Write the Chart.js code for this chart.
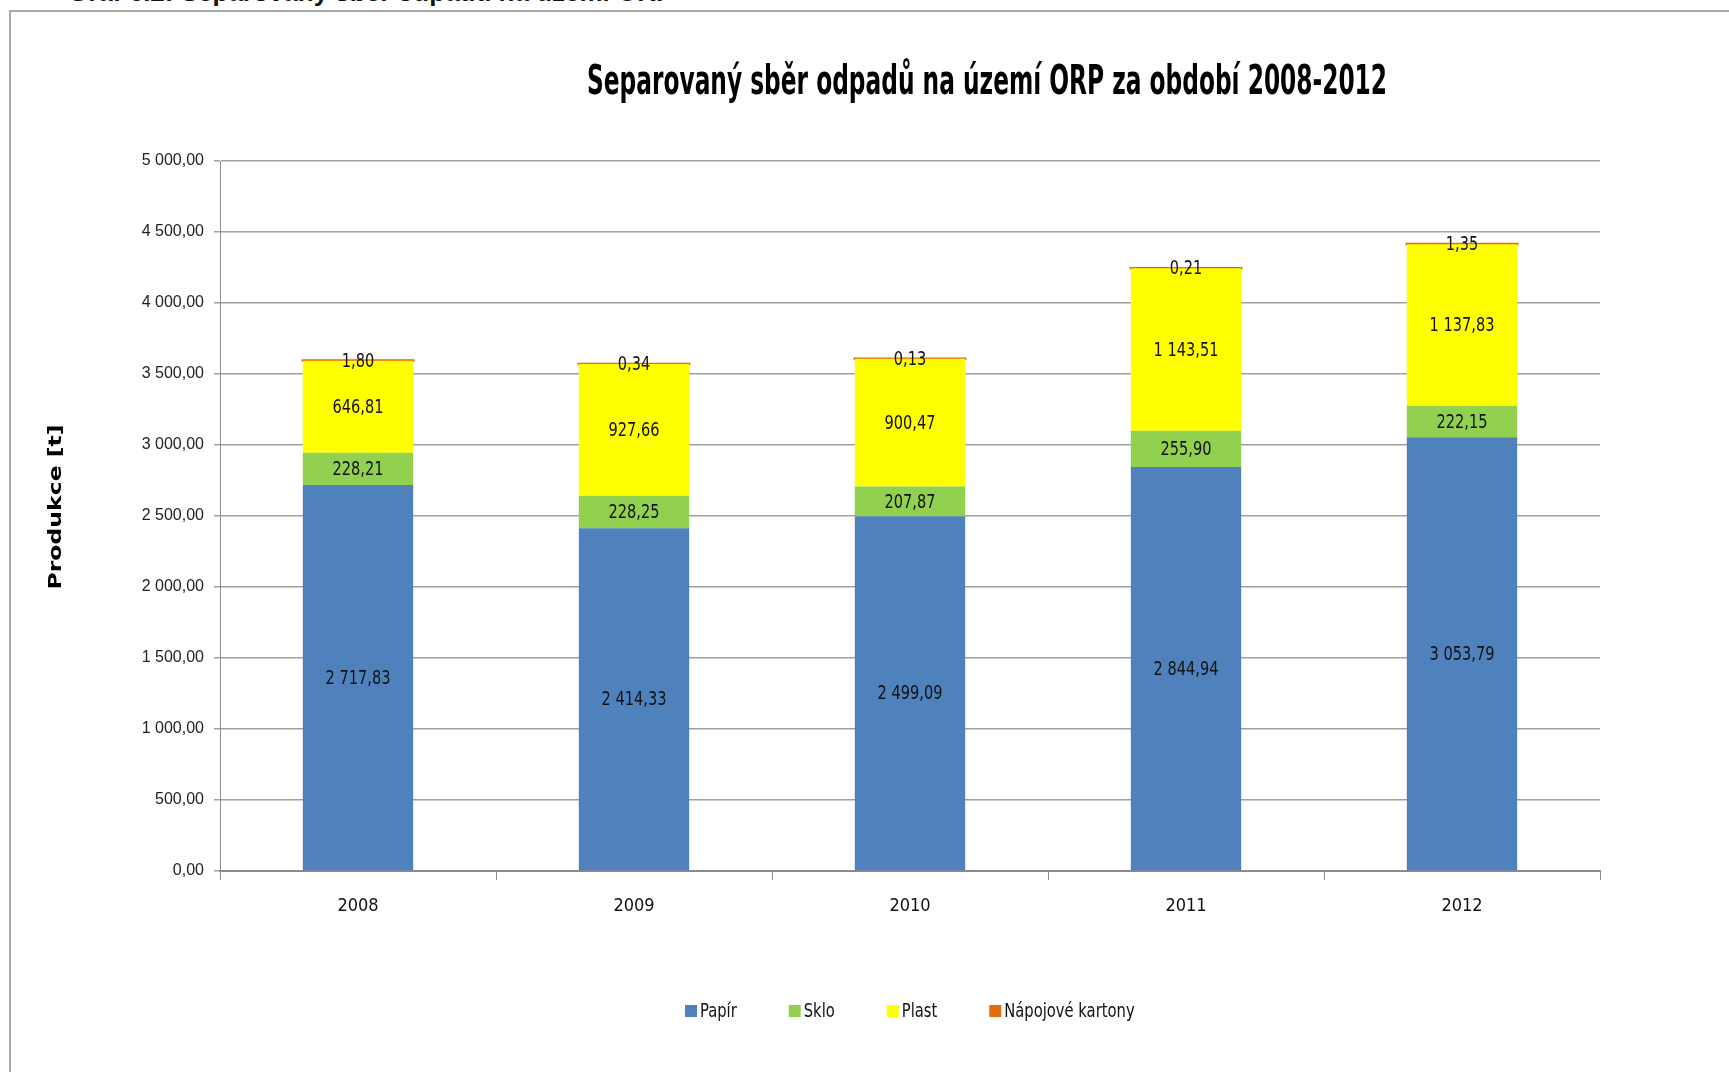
<!DOCTYPE html>
<html>
<head>
<meta charset="utf-8">
<title>Separovaný sběr odpadů</title>
<script src="https://cdn.jsdelivr.net/npm/chart.js@4.4.1/dist/chart.umd.min.js"></script>
<style>
  html, body { margin: 0; padding: 0; background: #fff; overflow: hidden; }
  #page { position: relative; width: 1729px; height: 1072px; overflow: hidden; }
  #frame { position: absolute; left: 9px; top: 10px; width: 1800px; height: 1200px;
           border-left: 2px solid #a8a8a8; border-top: 2px solid #a8a8a8; }
  #caption { position: absolute; left: 68px; top: -23px; margin: 0; line-height: 26px;
             font: bold 26px "Liberation Sans", Arial, sans-serif; color: #111; white-space: nowrap; }
  #chart { position: absolute; left: 0; top: 0; }
</style>
</head>
<body>
<div id="page">
  <div id="frame"></div>
  <p id="caption">Graf 6.2: Separovaný sběr odpadů na území ORP</p>
  <canvas id="chart" width="1729" height="1072"></canvas>
</div>
<script>
// roky a hodnoty v tunách
const years = ["2008", "2009", "2010", "2011", "2012"];
const papir = [2717.83, 2414.33, 2499.09, 2844.94, 3053.79];
const sklo = [228.21, 228.25, 207.87, 255.90, 222.15];
const plast = [646.81, 927.66, 900.47, 1143.51, 1137.83];
const kartony = [1.80, 0.34, 0.13, 0.21, 1.35];

const seriesNames = ["Papír", "Sklo", "Plast", "Nápojové kartony"];
const seriesColors = ["#4f81bd", "#92d050", "#ffff00", "#e46c0a"];

const yMax = 5000;
const yStep = 500;

const chartTitle = "Separovaný sběr odpadů na území ORP za období 2008-2012";
const axisTitle = "Produkce [t]";
const NARROW = '"Liberation Sans Narrow", "DejaVu Sans Condensed", sans-serif';

// 2 717,83 style numbers
function fmt(v) {
  const parts = Number(v).toFixed(2).split(".");
  return parts[0].replace(/\B(?=(\d{3})+(?!\d))/g, " ") + "," + parts[1];
}

// text squeezed (or stretched) horizontally by sx
function squeezed(ctx, text, x, y, sx) {
  ctx.save();
  ctx.translate(x, y);
  ctx.scale(sx, 1);
  ctx.fillText(text, 0, 0);
  ctx.restore();
}

// value labels centered in each stacked segment
const segmentLabels = {
  id: "segmentLabels",
  afterDatasetsDraw(chart) {
    const ctx = chart.ctx;
    ctx.save();
    ctx.font = "20px " + NARROW;
    ctx.fillStyle = "#111";
    ctx.textAlign = "center";
    ctx.textBaseline = "middle";
    chart.data.datasets.forEach((ds, i) => {
      const meta = chart.getDatasetMeta(i);
      meta.data.forEach((bar, j) => {
        squeezed(ctx, fmt(ds.data[j]), bar.x, (bar.y + bar.base) / 2 + 1, 0.81);
      });
    });
    ctx.restore();
  }
};

// heading, y axis title and legend row
const decorations = {
  id: "decorations",
  afterDraw(chart) {
    const ctx = chart.ctx;
    const area = chart.chartArea;

    ctx.save();
    ctx.fillStyle = "#000";
    ctx.font = "bold 40px " + NARROW;
    ctx.textAlign = "center";
    ctx.textBaseline = "alphabetic";
    const tw = ctx.measureText(chartTitle).width;
    squeezed(ctx, chartTitle, 987, 94, Math.min(1, 800 / tw));
    ctx.restore();

    // rotated axis title, stretched along the text
    ctx.save();
    ctx.fillStyle = "#000";
    ctx.font = 'bold 17px "DejaVu Sans", Verdana, sans-serif';
    ctx.textAlign = "center";
    ctx.textBaseline = "middle";
    const aw = ctx.measureText(axisTitle).width;
    ctx.translate(57, (area.top + area.bottom) / 2 - 9);
    ctx.rotate(-Math.PI / 2);
    ctx.scale(165 / aw, 1);
    ctx.fillText(axisTitle, 0, 0);
    ctx.restore();

    // legend
    ctx.save();
    ctx.font = "20px " + NARROW;
    ctx.textAlign = "left";
    ctx.textBaseline = "middle";
    let x = 685;
    const y = 1011;
    seriesNames.forEach((name, i) => {
      ctx.fillStyle = seriesColors[i];
      ctx.fillRect(x, y - 6, 12, 12);
      ctx.fillStyle = "#111";
      squeezed(ctx, name, x + 15, y + 1, 0.82);
      x += 15 + ctx.measureText(name).width * 0.82 + 52;
    });
    ctx.restore();
  }
};

const values = [papir, sklo, plast, kartony];
const datasets = values.map((data, i) => ({
  label: seriesNames[i],
  data: data,
  backgroundColor: seriesColors[i],
  borderWidth: 0,
  // the carton layer is thin, widen it a bit so it stays visible
  inflateAmount: i === 3 ? 1.2 : 0,
  barPercentage: 0.4,
  categoryPercentage: 1.0
}));

new Chart(document.getElementById("chart"), {
  type: "bar",
  data: { labels: years, datasets: datasets },
  options: {
    responsive: false,
    animation: false,
    layout: { padding: { left: 0, top: 161, right: 129, bottom: 101 } },
    plugins: {
      legend: { display: false },
      title: { display: false },
      tooltip: { enabled: false }
    },
    scales: {
      x: {
        stacked: true,
        afterFit: (s) => { s.height = 100; },
        grid: { display: true, drawOnChartArea: false, offset: true, tickLength: 9, color: "#8c8c8c", lineWidth: 1 },
        border: { display: true, color: "#8c8c8c", width: 2 },
        ticks: { color: "#111", font: { family: NARROW, size: 18 }, padding: 16 }
      },
      y: {
        stacked: true,
        min: 0,
        max: yMax,
        afterFit: (s) => { s.width = 220; },
        ticks: {
          stepSize: yStep,
          color: "#222",
          padding: 10,
          font: { family: '"Liberation Sans", Arial, sans-serif', size: 16 },
          callback: (v) => fmt(v)
        },
        grid: { color: "#a0a0a0", lineWidth: 1.5, tickLength: 6 },
        border: { display: true, color: "#8c8c8c", width: 1 }
      }
    }
  },
  plugins: [segmentLabels, decorations]
});
</script>
</body>
</html>
